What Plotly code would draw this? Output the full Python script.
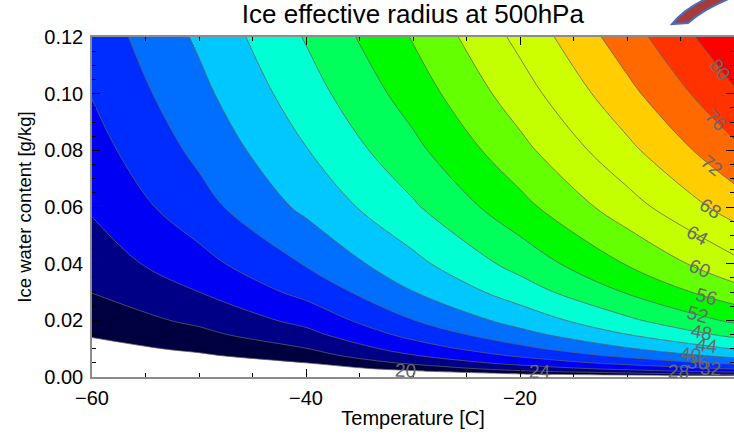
import numpy as np
import plotly.graph_objects as go

# ---- data ----
temperature = [-60, -50, -40, -30, -20, -10, 0]          # deg C
iwc = [0, 0.0005, 0.001, 0.002, 0.003, 0.005, 0.0075, 0.01,
       0.015, 0.02, 0.03, 0.04, 0.06, 0.08, 0.10, 0.12]   # g/kg
radius = [  # ice effective radius (one row per IWC value, one column per temperature)
    [0, 0, 0, 0, 0, 0, 0],
    [9.02, 9.50, 11.00, 13.50, 16.54, 18.64, 20.59],
    [10.65, 11.30, 13.20, 16.20, 19.66, 22.19, 24.57],
    [12.58, 13.60, 15.90, 19.40, 23.38, 26.44, 29.32],
    [13.86, 15.20, 17.70, 21.60, 25.88, 29.28, 32.52],
    [15.67, 17.50, 20.00, 24.80, 29.40, 33.30, 37.04],
    [17.27, 19.40, 22.20, 27.70, 32.54, 36.89, 41.07],
    [18.51, 20.80, 23.90, 29.90, 34.97, 39.66, 44.21],
    [20.40, 23.00, 26.80, 33.30, 38.70, 43.93, 49.02],
    [21.86, 24.80, 29.20, 35.90, 41.58, 47.23, 52.75],
    [24.09, 28.00, 33.20, 39.90, 46.02, 52.31, 58.49],
    [25.81, 30.60, 36.30, 42.90, 49.45, 56.24, 62.95],
    [28.45, 34.50, 40.90, 47.47, 54.73, 62.29, 69.81],
    [30.49, 36.94, 43.82, 50.94, 58.81, 66.98, 75.12],
    [32.16, 38.93, 46.23, 53.80, 62.18, 70.85, 79.52],
    [33.60, 40.63, 48.30, 56.26, 65.08, 74.18, 83.30],
]
level_start, level_end, level_step = 20, 80, 4
x_ticks = [-60, -40, -20, 0]
y_ticks = [0.00, 0.02, 0.04, 0.06, 0.08, 0.10, 0.12]

# temperature along each contour at which its label is written (as in the reference)
label_levels = [80, 76, 72, 68, 64, 60, 56, 52, 48, 44, 40, 36, 32, 28, 24, 20]
label_temps = [-1.3, -1.7, -2.1, -2.2, -3.4, -3.2, -2.6, -3.4, -3.0, -2.5,
               -4.1, -3.4, -2.2, -5.2, -18.1, -30.7]

# one colour per band: below 20, 20-24, ..., 76-80, above 80
band_colors = [
    "rgb(255,255,255)", "rgb(0,0,65)", "rgb(0,0,135)", "rgb(0,0,245)",
    "rgb(0,45,255)", "rgb(0,110,255)", "rgb(0,200,255)", "rgb(0,255,210)",
    "rgb(0,255,90)", "rgb(0,250,0)", "rgb(100,255,0)", "rgb(195,255,0)",
    "rgb(205,255,0)", "rgb(255,205,0)", "rgb(255,105,0)", "rgb(255,50,0)",
    "rgb(255,0,0)",
]

nb = len(band_colors) - 1
colorscale = []
for k in range(nb):
    lo = k / nb
    hi = (k + 1) / nb if k < nb - 1 else 0.995
    colorscale.append([lo, band_colors[k]])
    colorscale.append([hi, band_colors[k]])
colorscale.append([0.995, band_colors[-1]])
colorscale.append([1.0, band_colors[-1]])

FONT = "Liberation Sans, Arial, sans-serif"
W, H = 734, 436
ML, MR, MT, MB = 92, 0, 37, 59
px_per_deg = (W - ML - MR) / 60.0
px_per_iwc = (H - MT - MB) / 0.12

Z = np.array(radius, dtype=float)
TT = np.array(temperature, dtype=float)
QQ = np.array(iwc, dtype=float)


def iwc_on_level(level, t):
    col = np.array([np.interp(t, TT, row) for row in Z])
    return float(np.interp(level, col, QQ))


annotations = []
for lev, t in zip(label_levels, label_temps):
    q = iwc_on_level(lev, t)
    dq = iwc_on_level(lev, t + 0.4) - iwc_on_level(lev, t - 0.4)
    ang = np.degrees(np.arctan2(-dq * px_per_iwc, 0.8 * px_per_deg))
    annotations.append(dict(
        x=t, y=q, xref="x", yref="y", text=str(lev), showarrow=False,
        textangle=float(ang), font=dict(family=FONT, size=19, color="rgb(105,105,105)"),
    ))

fig = go.Figure(
    go.Contour(
        x=temperature, y=iwc, z=radius,
        autocontour=False,
        contours=dict(start=level_start, end=level_end, size=level_step,
                      coloring="fill", showlabels=False),
        line=dict(color="rgba(95,95,95,0.75)", width=1, smoothing=1.0),
        colorscale=colorscale, showscale=False, hoverinfo="skip",
    )
)

axis_common = dict(
    showline=True, linecolor="rgb(140,140,140)", linewidth=1.5, mirror="ticks",
    ticks="inside", ticklen=8, tickcolor="black", tickwidth=1,
    showgrid=False, zeroline=False, automargin=False,
    tickfont=dict(family=FONT, size=20, color="black"),
)

fig.update_layout(
    width=W, height=H,
    margin=dict(l=ML, r=MR, t=MT, b=MB),
    paper_bgcolor="white", plot_bgcolor="white",
    title=dict(text="Ice effective radius at 500hPa", x=0.5625, xanchor="center",
               y=0.968, yanchor="middle",
               font=dict(family=FONT, size=26, color="black")),
    xaxis=dict(range=[-60, 0], tickvals=x_ticks, ticklabelstandoff=2,
               title=dict(text="Temperature [C]", standoff=3,
                          font=dict(family=FONT, size=20, color="black")),
               minor=dict(dtick=5, ticklen=4, ticks="inside", tickcolor="black"),
               **axis_common),
    yaxis=dict(range=[0, 0.12], tickvals=y_ticks, tickformat=".2f", ticklabelstandoff=3,
               title=dict(text="Ice water content [g/kg]", standoff=8,
                          font=dict(family=FONT, size=18.5, color="black")),
               minor=dict(dtick=0.005, ticklen=4, ticks="inside", tickcolor="black"),
               **axis_common),
    annotations=annotations,
    shapes=[dict(
        type="path", xref="paper", yref="paper",
        path="M 0.9034,1.0382 Q 0.9237,1.0853 0.9626,1.1176 L 0.9990,1.1176 "
             "Q 0.9548,1.0853 0.9283,1.0412 Z",
        fillcolor="rgb(165,60,60)", line=dict(color="rgb(70,110,190)", width=2),
        layer="above",
    )],
)

fig.write_html("out.html")
